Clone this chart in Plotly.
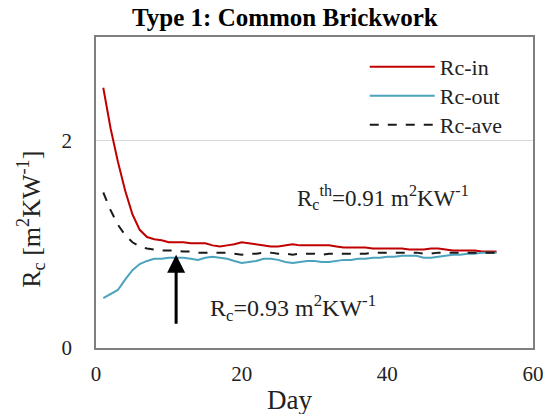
import plotly.graph_objects as go

days = list(range(1, 56))

rc_in = [2.51, 2.12, 1.80, 1.52, 1.29, 1.14, 1.07, 1.05, 1.04, 1.02,
         1.02, 1.02, 1.01, 1.01, 1.01, 0.99, 0.98, 0.99, 1.00, 1.02,
         1.01, 1.00, 0.99, 0.98, 0.98, 0.99, 1.00, 0.99, 0.99, 0.99,
         0.99, 0.99, 0.98, 0.97, 0.97, 0.97, 0.97, 0.96, 0.96, 0.96,
         0.96, 0.96, 0.95, 0.95, 0.95, 0.96, 0.96, 0.95, 0.94, 0.94,
         0.94, 0.94, 0.93, 0.93, 0.93]

rc_out = [0.48, 0.52, 0.56, 0.66, 0.75, 0.81, 0.84, 0.86, 0.86, 0.87,
          0.87, 0.87, 0.86, 0.85, 0.87, 0.88, 0.87, 0.86, 0.84, 0.82,
          0.83, 0.84, 0.86, 0.86, 0.85, 0.83, 0.82, 0.83, 0.84, 0.84,
          0.83, 0.83, 0.84, 0.85, 0.85, 0.86, 0.86, 0.87, 0.87, 0.88,
          0.88, 0.89, 0.89, 0.89, 0.87, 0.87, 0.88, 0.89, 0.90, 0.90,
          0.91, 0.91, 0.92, 0.92, 0.92]

rc_ave = [1.50, 1.33, 1.19, 1.09, 1.02, 0.98, 0.96, 0.95, 0.94, 0.94,
          0.94, 0.93, 0.93, 0.92, 0.92, 0.92, 0.92, 0.92, 0.91, 0.90,
          0.91, 0.91, 0.92, 0.92, 0.91, 0.91, 0.90, 0.91, 0.91, 0.91,
          0.90, 0.91, 0.91, 0.91, 0.91, 0.91, 0.91, 0.92, 0.92, 0.92,
          0.92, 0.92, 0.92, 0.92, 0.91, 0.91, 0.92, 0.92, 0.92, 0.92,
          0.92, 0.92, 0.92, 0.92, 0.92]

arrow_day = 11
arrow_tail, arrow_head = 0.22, 0.90

FONT = "Liberation Serif, Times New Roman, serif"
C_IN = "#C00000"
C_OUT = "#4BA3BD"
C_AVE = "#1a1a1a"

fig = go.Figure()
fig.add_trace(go.Scatter(x=days, y=rc_in, mode="lines", name="Rc-in",
                         line=dict(color=C_IN, width=2), legend="legend"))
fig.add_trace(go.Scatter(x=days, y=rc_out, mode="lines", name="Rc-out",
                         line=dict(color=C_OUT, width=2), legend="legend2"))
fig.add_trace(go.Scatter(x=days, y=rc_ave, mode="lines", name="Rc-ave",
                         line=dict(color=C_AVE, width=2, dash="dash"),
                         legend="legend3"))

# arrow pointing at the converged value
fig.add_annotation(x=arrow_day, y=arrow_head, ax=arrow_day, ay=arrow_tail,
                   xref="x", yref="y", axref="x", ayref="y", text="",
                   showarrow=True, arrowhead=2, arrowsize=1.2, arrowwidth=3,
                   arrowcolor="black")

fig.add_annotation(x=27, y=0.385, xref="x", yref="y", showarrow=False,
                   text="R<sub>c</sub>=0.93 m<sup>2</sup>KW<sup>-1</sup>",
                   font=dict(family=FONT, size=24, color="#222"))
fig.add_annotation(x=39.4, y=1.45, xref="x", yref="y", showarrow=False,
                   text="R<sub>c</sub><sup>th</sup>=0.91 m<sup>2</sup>KW<sup>-1</sup>",
                   font=dict(family=FONT, size=23, color="#222"))

# titles placed like the original (pixel positions, converted below)
fig.add_annotation(x=287, y=396, xref="paper", yref="paper", showarrow=False,
                   text="<b>Type 1: Common Brickwork</b>",
                   font=dict(family=FONT, size=25, color="black"))
fig.add_annotation(x=292, y=14, xref="paper", yref="paper", showarrow=False,
                   text="Day", font=dict(family=FONT, size=27, color="#222"))
fig.add_annotation(x=30, y=195, xref="paper", yref="paper", showarrow=False,
                   textangle=-90,
                   text="R<sub>c</sub> [m<sup>2</sup>KW<sup>-1</sup>]",
                   font=dict(family=FONT, size=26, color="#222"))

W, H = 556, 414
L, R, T, B = 96, 18, 37, 66
pw, ph = W - L - R, H - T - B
for a in fig.layout.annotations[3:]:
    a.x = (a.x - L) / pw
    a.y = (a.y - B) / ph
    a.xanchor = "center"
    a.yanchor = "middle"

leg = dict(x=0.615, xanchor="left", yanchor="middle",
           bgcolor="rgba(0,0,0,0)", itemwidth=65,
           font=dict(family=FONT, size=22))

fig.update_layout(
    width=W, height=H,
    margin=dict(l=L, r=R, t=T, b=B),
    paper_bgcolor="white", plot_bgcolor="white",
    font=dict(family=FONT, size=22, color="#222"),
    showlegend=True,
    legend=dict(leg, y=(H - 67 - B) / ph),
    legend2=dict(leg, y=(H - 96 - B) / ph),
    legend3=dict(leg, y=(H - 125 - B) / ph),
    xaxis=dict(range=[0, 60], dtick=20, showgrid=False, ticks="",
               showline=True, linecolor="#7f7f7f", linewidth=1.5, mirror=True,
               zeroline=False, ticklabelstandoff=6,
               tickfont=dict(family=FONT, size=21)),
    yaxis=dict(range=[0, 3], tickvals=[0, 2], showgrid=True,
               gridcolor="#d9d9d9", gridwidth=1, ticks="",
               showline=True, linecolor="#7f7f7f", linewidth=1.5, mirror=True,
               zeroline=False, ticklabelstandoff=18,
               tickfont=dict(family=FONT, size=21)),
)

fig.write_html("out.html", config={"displayModeBar": False},
               post_script="document.body.style.margin='0';")
